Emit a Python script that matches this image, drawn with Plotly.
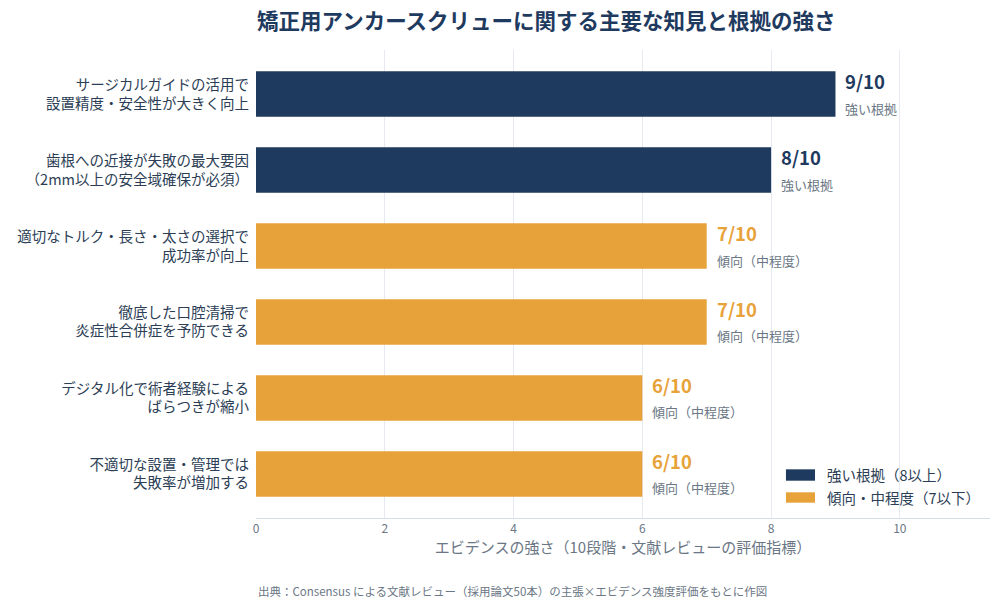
import plotly.graph_objects as go

categories = [
    "サージカルガイドの活用で<br>設置精度・安全性が大きく向上",
    "歯根への近接が失敗の最大要因<br>（2mm以上の安全域確保が必須）",
    "適切なトルク・長さ・太さの選択で<br>成功率が向上",
    "徹底した口腔清掃で<br>炎症性合併症を予防できる",
    "デジタル化で術者経験による<br>ばらつきが縮小",
    "不適切な設置・管理では<br>失敗率が増加する",
]
scores = [9, 8, 7, 7, 6, 6]
levels = ["強い根拠", "強い根拠", "傾向（中程度）", "傾向（中程度）", "傾向（中程度）", "傾向（中程度）"]
legend_names = ["強い根拠（8以上）", "傾向・中程度（7以下）"]
x_ticks = [0, 2, 4, 6, 8, 10]

NAVY = "#1f3a5f"
ORANGE = "#e8a23a"
FONT = "Noto Sans CJK JP"
GRAY = "#6b7785"
TEXT = "#2c3e55"

fig = go.Figure()
for name, color, strong in [(legend_names[0], NAVY, True), (legend_names[1], ORANGE, False)]:
    xs, ys = [], []
    for c, s in zip(categories, scores):
        if (s >= 8) == strong:
            xs.append(s)
            ys.append(c)
    fig.add_trace(go.Bar(
        x=xs, y=ys, orientation="h", name=name,
        marker=dict(color=color, line=dict(width=0)),
        width=0.6, hoverinfo="skip", showlegend=False,
    ))

for c, s, lv in zip(categories, scores, levels):
    color = NAVY if s >= 8 else ORANGE
    fig.add_annotation(x=s, y=c, text=f"<b>{s}/10</b>", showarrow=False,
                       xanchor="left", yanchor="middle", xshift=8, yshift=13,
                       font=dict(size=18.5, color=color, family=FONT))
    fig.add_annotation(x=s, y=c, text=lv, showarrow=False,
                       xanchor="left", yanchor="middle", xshift=8, yshift=-14,
                       font=dict(size=13, color=GRAY, family=FONT))

# custom legend (wide swatches like the reference)
legend_items = [(legend_names[0], NAVY, 0.0797, 0.104, 0.092),
                (legend_names[1], ORANGE, 0.0327, 0.0549, 0.043)]
for name, color, y0, y1, yt in legend_items:
    fig.add_shape(type="rect", xref="paper", yref="paper", x0=0.722, x1=0.7616, y0=y0, y1=y1,
                  fillcolor=color, line=dict(width=0))
    fig.add_annotation(xref="paper", yref="paper", x=0.775, y=yt, xanchor="left", yanchor="middle",
                       text=name, showarrow=False, font=dict(size=14.5, color=TEXT, family=FONT))

fig.add_annotation(xref="paper", yref="paper", x=0, y=-0.155, xanchor="left", yanchor="middle",
                   text="出典：Consensus による文献レビュー（採用論文50本）の主張×エビデンス強度評価をもとに作図",
                   showarrow=False, font=dict(size=11.5, color=GRAY, family=FONT))

fig.update_layout(
    width=1000, height=607,
    margin=dict(l=256, r=10, t=50, b=89),
    paper_bgcolor="white", plot_bgcolor="white",
    font=dict(family=FONT, color=TEXT),
    title=dict(text="<b>矯正用アンカースクリューに関する主要な知見と根拠の強さ</b>",
               x=0.257, xanchor="left", y=0.965, yanchor="middle",
               font=dict(size=21.5, color=NAVY, family=FONT)),
    barmode="overlay",
    showlegend=False,
    xaxis=dict(range=[0, 11.4], tickvals=x_ticks, showgrid=True, gridcolor="#e6eaf0",
               zeroline=False, showline=True, linecolor="#d5dce6", linewidth=1,
               tickfont=dict(size=12, color=GRAY),
               title=dict(text="エビデンスの強さ（10段階・文献レビューの評価指標）",
                          font=dict(size=15, color=GRAY), standoff=6)),
    yaxis=dict(categoryorder="array", categoryarray=categories, range=[5.58, -0.58],
               showgrid=False, zeroline=False, showline=False,
               tickfont=dict(size=14.5, color=TEXT), ticks="", ticklabelstandoff=6),
)

fig.write_html("out.html")
